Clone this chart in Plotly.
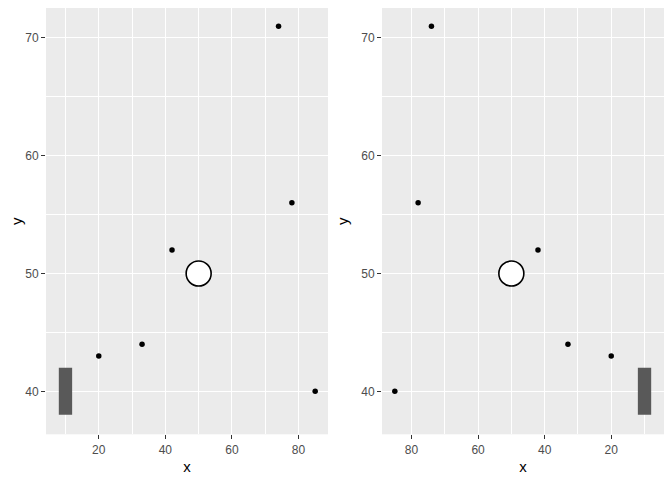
import plotly.graph_objects as go

# data
pt_x = [20, 33, 42, 74, 78, 85]
pt_y = [43, 44, 52, 71, 56, 40]
circle_x = [50]
circle_y = [50]
rect_xmin, rect_xmax = 8, 12
rect_ymin, rect_ymax = 38, 42

x_major = [20, 40, 60, 80]
x_minor = [10, 30, 50, 70]
y_major = [40, 50, 60, 70]
y_minor = [45, 55, 65]

# page has an 8px body margin; figure occupies page 8..672 x 8..480
OFF = 8
W, H = 672 - OFF, 480 - OFF
fig = go.Figure()

for i, ax in enumerate(["x", "x2"]):
    ya = "y" if i == 0 else "y2"
    fig.add_trace(go.Scatter(
        x=[rect_xmin, rect_xmax, rect_xmax, rect_xmin, rect_xmin],
        y=[rect_ymin, rect_ymin, rect_ymax, rect_ymax, rect_ymin],
        fill="toself", fillcolor="#595959", mode="lines",
        line=dict(width=0, color="#595959"), xaxis=ax, yaxis=ya,
        hoverinfo="skip", showlegend=False))
    fig.add_trace(go.Scatter(
        x=pt_x, y=pt_y, mode="markers",
        marker=dict(color="black", size=5.5),
        xaxis=ax, yaxis=ya, showlegend=False))
    fig.add_trace(go.Scatter(
        x=circle_x, y=circle_y, mode="markers",
        marker=dict(color="white", size=25, line=dict(color="black", width=1.6)),
        xaxis=ax, yaxis=ya, showlegend=False))


def px_x(p):
    return (p - OFF) / W


def px_y(p):
    return 1 - (p - OFF) / H


common_axis = dict(
    showgrid=True, gridcolor="white", gridwidth=1.4,
    zeroline=False, showline=False,
    ticks="outside", ticklen=4, tickwidth=1, tickcolor="#333333",
    tickfont=dict(family="Liberation Sans, Arial", size=12, color="#4D4D4D"),
)
minor_style = dict(showgrid=True, gridcolor="white", gridwidth=0.7, ticks="")
xrange = [4.15, 88.85]
yrange = [36.35, 72.65]
# top of panel is at page y 6.7 (< offset); trim range so data positions match
top_page = 6.7
ppu = (434.3 - top_page) / (yrange[1] - yrange[0])
yrange_plot = [yrange[0], yrange[1] - (OFF - top_page) / ppu]
ydom = [px_y(434.3), 1.0]

fig.update_layout(
    width=W, height=H,
    margin=dict(l=0, r=0, t=0, b=0, autoexpand=False),
    paper_bgcolor="white", plot_bgcolor="#EBEBEB",
    font=dict(family="Liberation Sans, Arial", color="black"),
    showlegend=False,
    xaxis=dict(domain=[px_x(46), px_x(328)], range=xrange, tickvals=x_major,
               anchor="y", minor=dict(minor_style, tickvals=x_minor),
               title=dict(text="x", font=dict(size=15), standoff=5),
               **common_axis),
    yaxis=dict(domain=ydom, range=yrange_plot, tickvals=y_major, anchor="x",
               minor=dict(minor_style, tickvals=y_minor),
               title=dict(text="y", font=dict(size=15), standoff=8),
               **common_axis),
    xaxis2=dict(domain=[px_x(382), px_x(664)], range=xrange[::-1], tickvals=x_major,
                anchor="y2", minor=dict(minor_style, tickvals=x_minor),
                title=dict(text="x", font=dict(size=15), standoff=5),
                **common_axis),
    yaxis2=dict(domain=ydom, range=yrange_plot, tickvals=y_major, anchor="x2",
                minor=dict(minor_style, tickvals=y_minor),
                title=dict(text="y", font=dict(size=15), standoff=8),
                **common_axis),
)

fig.write_html("out.html")
